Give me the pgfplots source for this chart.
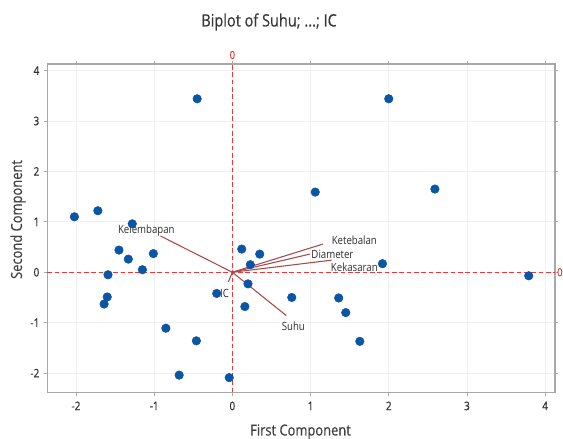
\documentclass[border=0pt]{standalone}
\usepackage{fontspec}
\setmainfont{Open Sans}[FakeStretch=0.85]
\newfontfamily\semifont{Open Sans}[FakeStretch=0.85, FakeBold=0.4]
\usepackage{pgfplots}
\pgfplotsset{compat=1.18}
\definecolor{ptblue}{HTML}{0B56A4}
\definecolor{vecred}{HTML}{A8494B}
\definecolor{refred}{HTML}{E43A3A}
\definecolor{framegray}{HTML}{A8A8A8}
\definecolor{txt}{HTML}{2E2E2E}
\begin{document}
\begin{tikzpicture}
\begin{axis}[
  at={(0,0)}, anchor=south west,
  width=380.8pt, height=246.2pt, scale only axis,
  xmin=-2.366, xmax=4.127, ymin=-2.38, ymax=4.13,
  xtick={-2,-1,0,1,2,3,4}, ytick={-2,-1,0,1,2,3,4},
  grid=major, major grid style={color=black!6, line width=0.6pt},
  axis line style={framegray, line width=1.1pt},
  tick align=outside, major tick length=2.5pt,
  tick style={framegray, line width=0.6pt},
  ticklabel style={font=\semifont\fontsize{8.8}{10}\selectfont, text=txt},
  xticklabel style={yshift=-1pt},
  /pgf/number format/assume math mode=true,
  clip=false,
]
% reference lines
\addplot[refred, line width=0.9pt, dash pattern=on 3.5pt off 2pt] coordinates {(0,-2.38) (0,4.13)};
\addplot[refred, line width=0.9pt, dash pattern=on 3.5pt off 2pt] coordinates {(-2.366,0) (4.127,0)};
% scores
\addplot[only marks, mark=*, mark size=3.2pt, color=ptblue] table {
x y
-2.02 1.10
-1.72 1.22
-1.28 0.96
-1.45 0.44
-1.33 0.26
-1.01 0.37
-1.15 0.05
-1.59 -0.05
-1.60 -0.49
-1.64 -0.63
-0.45 3.44
-0.85 -1.11
-0.46 -1.36
-0.68 -2.04
-0.04 -2.09
-0.20 -0.42
0.12 0.46
0.35 0.36
0.23 0.15
0.20 -0.23
0.16 -0.68
0.76 -0.50
1.06 1.59
1.92 0.17
1.36 -0.51
1.45 -0.80
1.63 -1.37
2.00 3.44
2.59 1.65
3.79 -0.07
};
% loadings
\addplot[vecred, line width=0.8pt] coordinates {(0,0) (-0.92,0.72)};
\addplot[vecred, line width=0.8pt] coordinates {(0,0) (1.16,0.56)};
\addplot[vecred, line width=0.8pt] coordinates {(0,0) (0.99,0.36)};
\addplot[vecred, line width=0.8pt] coordinates {(0,0) (1.27,0.24)};
\addplot[vecred, line width=0.8pt] coordinates {(0,0) (0.69,-0.86)};
\addplot[vecred, line width=0.8pt] coordinates {(0,0) (-0.05,-0.19)};
\begin{scope}[every node/.style={font=\fontsize{8.5}{10}\selectfont, text=txt, inner sep=0pt}]
\node at (axis cs:-1.10,0.82) {Kelembapan};
\node at (axis cs:1.56,0.63) {Ketebalan};
\node at (axis cs:1.28,0.36) {Diameter};
\node at (axis cs:1.56,0.09) {Kekasaran};
\node at (axis cs:0.78,-1.07) {Suhu};
\node at (axis cs:-0.10,-0.42) {IC};
\end{scope}
\node[text=refred, font=\semifont\fontsize{8.5}{10}\selectfont, inner sep=0pt] at ([yshift=6.75pt]axis cs:0,4.13) {0};
\node[text=refred, font=\semifont\fontsize{8.5}{10}\selectfont, inner sep=0pt] at ([xshift=3.6pt]axis cs:4.127,0) {0};
\end{axis}
\pgfresetboundingbox
\useasboundingbox (-35.5pt,-35pt) rectangle (386.75pt,294.2pt);
\node[text=black!78, font=\semifont\fontsize{12.8}{15}\selectfont] at (166.3pt,277.7pt) {Biplot of Suhu; ...; IC};
\node[text=black!75, font=\semifont\fontsize{11.4}{14}\selectfont, rotate=90] at (-22pt,129.6pt) {Second Component};
\node[text=black!75, font=\semifont\fontsize{11.4}{14}\selectfont] at (189.9pt,-29.6pt) {First Component};
\end{tikzpicture}
\end{document}
